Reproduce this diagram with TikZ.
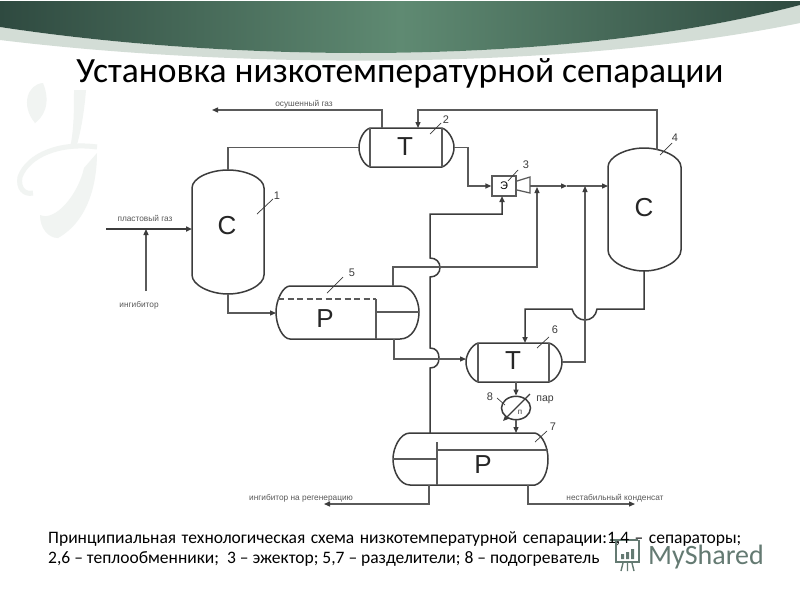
\documentclass[tikz,border=0pt]{standalone}
\usepackage{fontspec}
\setmainfont{Carlito}
\newfontfamily\lbl{Liberation Sans}
\usetikzlibrary{arrows.meta,shapes.geometric}
\definecolor{bandDark}{HTML}{2F4A40}
\definecolor{bandMid}{HTML}{5F8A72}
\definecolor{bandLight}{HTML}{D3DDD6}
\definecolor{ink}{HTML}{3C3C3C}
\definecolor{inkl}{HTML}{5A5A5A}
\definecolor{wmark}{HTML}{F1F4F2}
\definecolor{shared}{HTML}{647A72}
\tikzset{
  x=1pt,y=-1pt,
  vessel/.style={draw=ink,line width=1.5pt,fill=white},
  pipe/.style={draw=inkl,line width=1.25pt},
  flow/.style={pipe,-{Triangle[length=6pt,width=5pt,color=ink]}},
  hopflow/.style={flow,draw=ink,line width=1.5pt},
  lead/.style={draw=ink,line width=.7pt},
  big/.style={font=\lbl\fontsize{26}{26}\selectfont,text=black!85,inner sep=0pt},
  num/.style={font=\lbl\fontsize{11}{11}\selectfont,text=ink,inner sep=0pt},
  small/.style={font=\lbl\fontsize{8.3}{9}\selectfont,text=black!65,inner sep=0pt},
}
\begin{document}
\begin{tikzpicture}
\useasboundingbox (0,0) rectangle (800,600);
\fill[white] (0,0) rectangle (800,600);
% header band
\fill[bandLight] (0,27) .. controls (230,62) and (560,68) .. (800,5) -- (800,23) .. controls (560,72) and (230,68) .. (0,40) -- cycle;
\shade[left color=bandDark,right color=bandDark,middle color=bandMid]
  (0,1) -- (800,1) -- (800,5) .. controls (560,68) and (230,62) .. (0,27) -- cycle;
% watermark
\fill[wmark] (43,83) .. controls (28,84) and (20,105) .. (35,123) .. controls (42,118) and (52,105) .. (43,83) -- cycle;
\fill[wmark] (74,90) -- (86,90) .. controls (84,115) and (80,135) .. (76,148) -- (70,148) .. controls (74,130) and (74,110) .. (74,90) -- cycle;
\draw[wmark,line width=5pt] (97,147) .. controls (60,142) and (28,155) .. (20,177) .. controls (18,188) and (24,195) .. (33,193);
\fill[wmark] (97,153) .. controls (97,180) and (90,220) .. (58,238) .. controls (48,238) and (40,228) .. (40,215) .. controls (55,222) and (78,195) .. (84,168) -- cycle;
% title
\node[font=\fontsize{35.5}{38}\selectfont,text=black,inner sep=0pt] (title) at (400,73) {Установка низкотемпературной сепарации};
% vessels
\path[vessel] (192,188) .. controls (192,178) and (210,170) .. (228,170) coordinate (c1top) .. controls (246,170) and (264,178) .. (264,188) -- (264,275) .. controls (264,285) and (246,294) .. (228,294) coordinate (c1bot) .. controls (210,294) and (192,285) .. (192,275) -- cycle;
\path[vessel] (608,167) .. controls (608,157) and (626,148) .. (644,148) .. controls (662,148) and (681,157) .. (681,167) -- (681,250) .. controls (681,261) and (662,271) .. (644,271) coordinate (c4bot) .. controls (626,271) and (608,261) .. (608,250) -- cycle;
\coordinate (c4top) at (657,149.5);
\coordinate (c1in) at (192,229);
\coordinate (c4in) at (608,186);
% heat exchanger 2
\path[vessel] (370,128) .. controls (364,130) and (359,139) .. (359,147.5) coordinate (t2l) .. controls (359,156) and (364,165) .. (370,167) -- (442,167) .. controls (448,165) and (454,156) .. (454,147.5) coordinate (t2r) .. controls (454,139) and (448,130) .. (442,128) -- cycle;
\draw[pipe] (370,128) -- (370,167) (442,128) -- (442,167);
\coordinate (t2a) at (382,128);
\coordinate (t2b) at (418,128);
% heat exchanger 6
\path[vessel] (478,343) .. controls (472,345) and (466,354) .. (466,362) coordinate (t6l) .. controls (466,371) and (472,380) .. (478,382) -- (549,382) .. controls (556,380) and (562,371) .. (562,362) coordinate (t6r) .. controls (562,354) and (556,345) .. (549,343) -- cycle;
\draw[pipe] (478,343) -- (478,382) (549,343) -- (549,382);
\coordinate (t6a) at (525,343);
\coordinate (t6b) at (516,382);
% separator 5
\path[vessel] (290,286) -- (400,286) .. controls (412,286) and (419,300) .. (419,312) .. controls (419,326) and (412,339) .. (400,339) -- (290,339) .. controls (283,339) and (276,326) .. (276,312) .. controls (276,300) and (283,286) .. (290,286) -- cycle;
\draw[pipe,dash pattern=on 6pt off 3.5pt] (278,299) -- (376,299);
\draw[pipe] (376,299) -- (376,339) (376,312) -- (419,312);
\coordinate (r5in) at (276,313);
\coordinate (r5a) at (393,286);
\coordinate (r5b) at (394,339);
% separator 7
\path[vessel] (410,433) -- (535,433) .. controls (543,435) and (548,448) .. (548,459) .. controls (548,472) and (543,483) .. (535,485) -- (410,485) .. controls (400,485) and (393,472) .. (393,459) .. controls (393,448) and (400,433) .. (410,433) -- cycle;
\draw[pipe] (437,442) -- (437,485) (393,459) -- (437,459) (437,450) -- (548,450);
\coordinate (r7a) at (430,433);
\coordinate (r7b) at (516,433);
\coordinate (r7c) at (429,485);
\coordinate (r7d) at (528,485);
% ejector
\node[draw=inkl,line width=1.25pt,minimum width=24pt,minimum height=20pt,inner sep=0pt,font=\lbl\fontsize{11}{11}\selectfont] (ej) at (504,186) {Э};
\path[draw=inkl,line width=1.25pt] (517,181) -- (530,177) -- (530,193) -- (517,190);
\coordinate (ejout) at (530,186);
\coordinate (ejbot) at (502,196);
% heater 8
\node[draw=ink,line width=1.5pt,ellipse,minimum width=29pt,minimum height=23.4pt,inner sep=0pt] (h8) at (516,408) {};
\coordinate (ha) at (530,394);
\coordinate (hb) at (503,421);
\draw[flow,draw=ink,line width=1.3pt] (ha) -- (hb);
\node[font=\lbl\fontsize{8}{8}\selectfont,text=ink,inner sep=0pt] (hp) at (520,412) {п};
% free ends
\coordinate (dry) at (212,110);
\coordinate (gasin) at (106,229);
\coordinate (inh) at (146,291);
\coordinate (inhj) at (146,229);
\coordinate (regen) at (324,504);
\coordinate (cond) at (635,504);
\coordinate (midarrow) at (567,186);
\coordinate (j1) at (537,187);
\coordinate (j2) at (585,186);
% pipes
\draw[pipe] (c1top) |- (t2l);
\draw[flow] (t2a) |- (dry);
\draw[flow] (c4top) -- (657,110) -- (418,110) -- (t2b);
\draw[flow] (t2r) -- (468,147.5) -- (468,186) -- (ej.west);
\draw[flow] (ejout) -- (midarrow);
\draw[flow] (midarrow) -- (c4in);
\draw[flow,draw=ink,line width=1.6pt] (gasin) -- (c1in);
\draw[flow] (inh) -- (inhj);
\draw[flow] (c1bot) |- (r5in);
\draw[hopflow] (r7a) -- (430,368) .. controls (436,368) and (439,364) .. (439,358) .. controls (439,352) and (436,348) .. (430,348) -- (430,277) .. controls (436,277) and (440,273) .. (440,267.5) .. controls (440,262) and (436,258) .. (430,258) -- (430,214) -- (502,214) -- (ejbot);
\draw[flow] (r5a) -- (393,267) -- (537,267) -- (j1);
\draw[flow] (r5b) |- (t6l |- 0,359);
\draw[hopflow] (c4bot) -- (644,309) -- (597,309) .. controls (596,316) and (591,320) .. (585,320) .. controls (579,320) and (574,316) .. (572,309) -- (525,309) -- (t6a);
\draw[flow] (t6r) -| (j2);
\draw[flow] (t6b) -- (h8.north);
\draw[flow] (h8.south) -- (r7b);
\draw[flow] (r7c) |- (regen);
\draw[flow] (r7d) |- (cond);
% leaders
\draw[lead] (257,214) -- (273,199);
\draw[lead] (327,293) -- (343,277);
\draw[lead] (430,134) -- (441,123);
\draw[lead] (508,181) -- (518,170);
\draw[lead] (660,155) -- (672,143);
\draw[lead] (537,348) -- (549,337);
\draw[lead] (497,398) -- (505,405);
\draw[lead] (535,442) -- (547,431);
% letters
\node[big] (lc1) at (227,226) {С};
\node[big] (lc4) at (644,208) {С};
\node[big] (lt2) at (405,147) {Т};
\node[big] (lt6) at (513,361) {Т};
\node[big] (lp5) at (325,319) {Р};
\node[big] (lp7) at (483,465) {Р};
% numbers
\node[num] (n1) at (277,196) {1};
\node[num] (n2) at (446,120) {2};
\node[num] (n3) at (526,165) {3};
\node[num] (n4) at (675,138) {4};
\node[num] (n5) at (352,273) {5};
\node[num] (n6) at (555,330) {6};
\node[num] (n7) at (553,427) {7};
\node[num] (n8) at (490,397) {8};
\node[font=\lbl\fontsize{10.5}{11}\selectfont,text=ink,inner sep=0pt] (par) at (545,400) {пар};
% labels
\node[small] (g1) at (304,104) {осушенный газ};
\node[small] (g2) at (145,218) {пластовый газ};
\node[small] (g3) at (139,305) {ингибитор};
\node[small] (g4) at (301,498) {ингибитор на регенерацию};
\node[small] (g5) at (615,498) {нестабильный конденсат};
% site mark
\node[font=\fontsize{28}{28}\selectfont,text=shared,inner sep=0pt,anchor=west] (ms) at (648,557) {MyShared};
\begin{scope}[draw=shared,line width=1.4pt]
\draw (610,540) -- (638,540) (616,540) -- (616,562) -- (639,562) -- (639,540);
\draw (621,571) -- (623,563) (634,571) -- (632,563) (627.5,571) -- (627.5,563);
\fill[shared] (621,554) rectangle (624,559) (626,552) rectangle (629,559) (631,549) rectangle (634,559);
\end{scope}
% caption
\node[anchor=north west,inner sep=0pt,text width=693pt,align=justify,font=\fontsize{17.5}{20.5}\selectfont,text=black] (cap) at (48,531)
 {Принципиальная технологическая схема низкотемпературной сепарации:1,4 – сепараторы;\linebreak
 2,6 – теплообменники;\ \ 3 – эжектор; 5,7 – разделители; 8 – подогреватель};
\end{tikzpicture}
\end{document}
